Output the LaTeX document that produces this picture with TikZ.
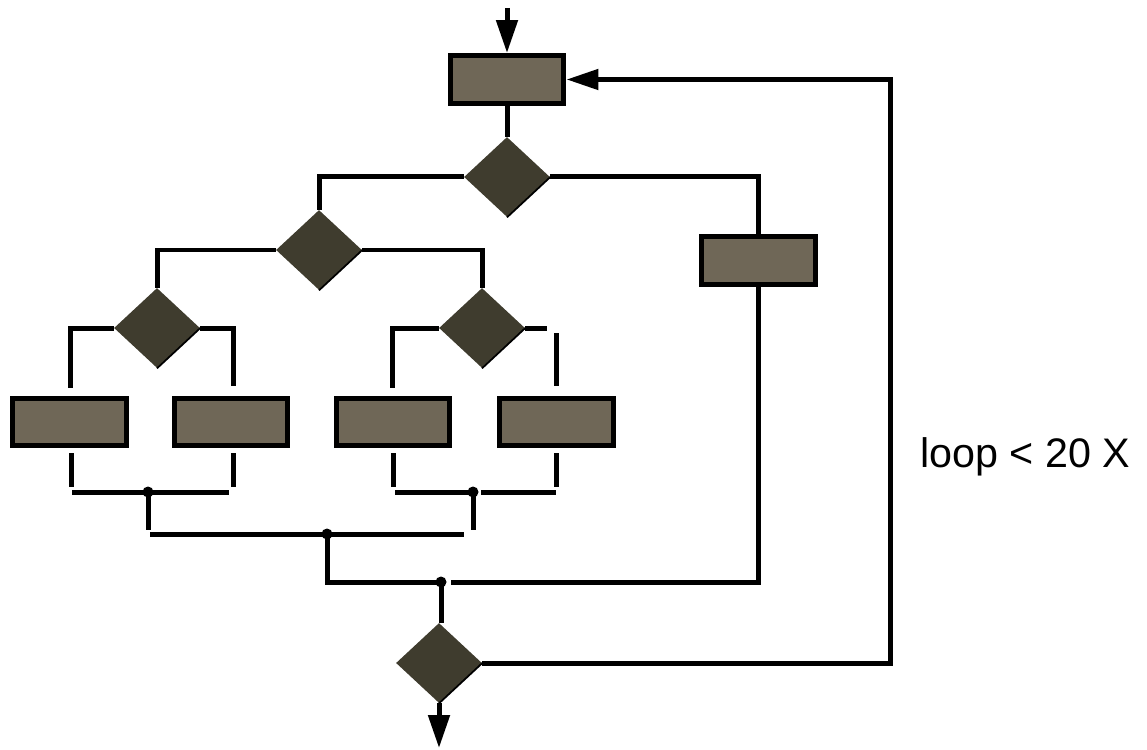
\documentclass[tikz,border=0pt]{standalone}
\usepackage{fontspec}
\setmainfont{Liberation Sans}
\usetikzlibrary{shapes.geometric,arrows.meta}
\definecolor{boxfill}{HTML}{6F6757}
\definecolor{dmfill}{HTML}{3F3C2E}
\begin{document}
\begin{tikzpicture}[x=0.02cm,y=-0.02cm,
 box/.style={rectangle,draw=black,line width=0.1cm,fill=boxfill,minimum width=2.28cm,minimum height=0.96cm,inner sep=0pt},
 dm/.style={diamond,fill=dmfill,minimum width=1.72cm,minimum height=1.6cm,inner sep=0pt},
 wire/.style={line width=0.1cm,black,line cap=butt},
 edge/.style={line width=0.035cm,black},
 jdot/.style={circle,fill=black,inner sep=0pt,minimum size=0.22cm},
 arr/.style={-{Triangle[length=0.66cm,width=0.42cm]}},
 lbl/.style={font=\fontsize{23.5pt}{28pt}\selectfont,inner sep=0pt}
]
\path[use as bounding box] (0,0) rectangle (1147,750);

% boxes
\node[box] (T)  at (507,79.5) {};
\node[box] (R)  at (758.5,260.5) {};
\node[box] (B1) at (69.5,422) {};
\node[box] (B2) at (231,422) {};
\node[box] (B3) at (393,422) {};
\node[box] (B4) at (556.5,422) {};

% diamonds
\node[dm] (D1) at (507,177) {};
\node[dm] (D2) at (319,250) {};
\node[dm] (D3) at (157,328) {};
\node[dm] (D4) at (482,328) {};
\node[dm] (D5) at (439,663) {};
\foreach \d in {D1,D2,D3,D4,D5}{\draw[edge] (\d.east) -- (\d.south);}

% label
\node[lbl,anchor=base west] (L) at (920,467) {loop < 20 X};

% coordinates
\coordinate (in) at (507,8);
\coordinate (out) at (439,748);
\coordinate (lpB) at (890,663);
\coordinate (lpT) at (890,79.5);
\coordinate (a3) at (70,388);
\coordinate (b3) at (233,386);
\coordinate (a4) at (392,388);
\coordinate (b4s) at (547,328);
\coordinate (b4a) at (556,333);
\coordinate (b4b) at (556,386);
\coordinate (u1a) at (71,453);  \coordinate (u1b) at (71,487);
\coordinate (u2a) at (233,453); \coordinate (u2b) at (233,487);
\coordinate (u3a) at (393,453); \coordinate (u3b) at (393,487);
\coordinate (u4a) at (556,453); \coordinate (u4b) at (556,487);
\coordinate (h1a) at (72,492);  \coordinate (h1b) at (229,492);
\coordinate (h2a) at (395,492); \coordinate (h2c) at (481,492); \coordinate (h2b) at (556,492);
\coordinate (v1) at (148,530);
\coordinate (v2) at (473,530);
\coordinate (m1) at (150,534); \coordinate (m2) at (464,534);
\coordinate (g4) at (451,582);

% junction dots
\node[jdot] (J1) at (148,492) {};
\node[jdot] (J2) at (473,492) {};
\node[jdot] (J3) at (327,534) {};
\node[jdot] (J4) at (441,582) {};

% connectors
\draw[wire,arr] (in) -- (T.north);
\draw[wire] (T.south) -- (D1.north);
\draw[wire] (D1.west) -| (D2.north);
\draw[wire] (D1.east) -| (R.north);
\draw[wire] (R.south) |- (g4);
\draw[wire] (D2.west) -| (D3.north);
\draw[wire] (D2.east) -| (D4.north);
\draw[wire] (D3.west) -| (a3);
\draw[wire] (D3.east) -| (b3);
\draw[wire] (D4.west) -| (a4);
\draw[wire] (D4.east) -- (b4s);
\draw[wire] (b4a) -- (b4b);
\draw[wire] (u1a) -- (u1b);
\draw[wire] (u2a) -- (u2b);
\draw[wire] (u3a) -- (u3b);
\draw[wire] (u4a) -- (u4b);
\draw[wire] (h1a) -- (h1b);
\draw[wire] (h2a) -- (J2.center);
\draw[wire] (h2c) -- (h2b);
\draw[wire] (J1.center) -- (v1);
\draw[wire] (J2.center) -- (v2);
\draw[wire] (m1) -- (m2);
\draw[wire] (J3.center) |- (J4.center);
\draw[wire] (J4.center) -- (J4.center |- D5.north);
\draw[wire,arr] (D5.south) -- (out);
\draw[wire,-{Triangle[length=0.64cm,width=0.4cm]}] (D5.east) -- (lpB) -- (lpT) -- (T.east);
\end{tikzpicture}
\end{document}
